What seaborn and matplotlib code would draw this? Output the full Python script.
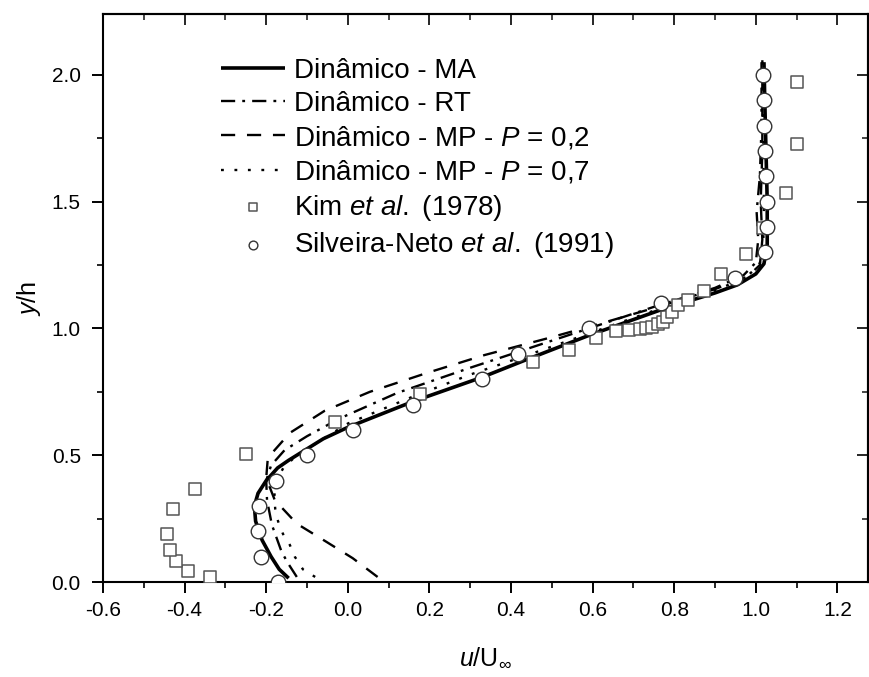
# -*- coding: utf-8 -*-
"""Perfil de velocidade u/U_inf x y/h: modelos dinamicos vs. dados experimentais"""
import numpy as np
import matplotlib
matplotlib.use("Agg")
import matplotlib.pyplot as plt
from matplotlib.ticker import MultipleLocator, FormatStrFormatter
import seaborn as sns

sns.set_theme(style="ticks")
plt.rcParams["font.family"] = ["Liberation Sans", "DejaVu Sans"]
plt.rcParams["mathtext.fontset"] = "custom"
plt.rcParams["mathtext.rm"] = "Liberation Sans"
plt.rcParams["mathtext.it"] = "Liberation Sans:italic"

# ---- Dinamico - MA (linha cheia)
ma_u = [-0.145, -0.168, -0.188, -0.210, -0.226, -0.229, -0.220, -0.200, -0.172, -0.145,
        -0.110, -0.060, 0.000, 0.160, 0.330, 0.430, 0.590, 0.770, 0.900, 0.955,
        1.000, 1.020, 1.028, 1.028, 1.025, 1.022, 1.020]
ma_y = [0.015, 0.050, 0.100, 0.165, 0.240, 0.300, 0.350, 0.400, 0.450, 0.480,
        0.515, 0.565, 0.610, 0.712, 0.808, 0.872, 0.972, 1.075, 1.140, 1.172,
        1.215, 1.255, 1.330, 1.500, 1.700, 1.900, 2.050]

# ---- Dinamico - RT (traco-ponto)
rt_u = [-0.125, -0.145, -0.162, -0.186, -0.198, -0.200, -0.188, -0.155, -0.100, -0.020,
        0.120, 0.300, 0.450, 0.600, 0.750, 0.900, 0.970, 1.000, 1.006, 1.002,
        1.010, 1.014, 1.014]
rt_y = [0.020, 0.070, 0.118, 0.225, 0.323, 0.400, 0.460, 0.520, 0.575, 0.645,
        0.745, 0.845, 0.925, 1.005, 1.085, 1.160, 1.210, 1.260, 1.350, 1.460,
        1.600, 1.800, 2.050]

# ---- Dinamico - MP - P = 0,2 (tracejado)
p2_u = [0.073, 0.012, -0.052, -0.125, -0.179, -0.200, -0.196, -0.142, -0.057, 0.054,
        0.193, 0.335, 0.494, 0.634, 0.760, 0.900, 0.980, 1.010, 1.016, 1.012,
        1.016, 1.016]
p2_y = [0.020, 0.094, 0.158, 0.230, 0.323, 0.410, 0.490, 0.588, 0.675, 0.750,
        0.824, 0.895, 0.963, 1.026, 1.085, 1.155, 1.205, 1.250, 1.350, 1.500,
        1.700, 2.050]

# ---- Dinamico - MP - P = 0,7 (pontilhado)
p7_u = [-0.080, -0.110, -0.130, -0.142, -0.159, -0.171, -0.178, -0.180, -0.175, -0.158,
        -0.125, -0.065, 0.000, 0.150, 0.300, 0.450, 0.600, 0.750, 0.900, 0.975,
        1.008, 1.018, 1.020, 1.018, 1.016]
p7_y = [0.020, 0.050, 0.100, 0.146, 0.190, 0.240, 0.290, 0.340, 0.400, 0.450,
        0.500, 0.560, 0.625, 0.725, 0.818, 0.900, 0.985, 1.070, 1.150, 1.200,
        1.250, 1.300, 1.500, 1.800, 2.060]

# ---- Kim et al. (1978)
kim_u = [-0.338, -0.392, -0.421, -0.436, -0.443, -0.429, -0.375, -0.250, -0.032, 0.176,
         0.453, 0.541, 0.609, 0.658, 0.688, 0.715, 0.732, 0.746, 0.761, 0.773,
         0.783, 0.795, 0.810, 0.835, 0.874, 0.915, 0.977, 1.018, 1.074, 1.100,
         1.100]
kim_y = [0.020, 0.043, 0.083, 0.126, 0.189, 0.288, 0.367, 0.505, 0.630, 0.742,
         0.868, 0.915, 0.963, 0.990, 0.994, 0.998, 1.002, 1.006, 1.018, 1.026,
         1.045, 1.065, 1.093, 1.112, 1.148, 1.215, 1.294, 1.396, 1.534, 1.728,
         1.972]

# ---- Silveira-Neto et al. (1991)
sn_u = [-0.172, -0.213, -0.220, -0.218, -0.176, -0.101, 0.012, 0.161, 0.328, 0.416,
        0.590, 0.768, 0.950, 1.022, 1.028, 1.027, 1.025, 1.022, 1.020, 1.020,
        1.018]
sn_y = [0.00, 0.10, 0.20, 0.30, 0.40, 0.50, 0.60, 0.70, 0.80, 0.90,
        1.00, 1.10, 1.20, 1.30, 1.40, 1.50, 1.60, 1.70, 1.80, 1.90,
        2.00]


def draw_curve(ax, u, y, lw, dashes, label):
    sns.lineplot(x=u, y=y, sort=False, estimator=None, color="black", lw=lw, ax=ax,
                 label=label, legend=False)
    line = ax.lines[-1]
    if dashes is not None:
        line.set_dashes(dashes)
    line.set_solid_capstyle("butt")
    line.set_dash_capstyle("butt")
    return line


def main():
    fig, ax = plt.subplots(figsize=(8.7, 6.77), dpi=100)
    fig.subplots_adjust(left=0.1184, right=0.9977, bottom=0.1403, top=0.9793)

    h_ma = draw_curve(ax, ma_u, ma_y, 2.6, None, "Dinâmico - MA")
    h_rt = draw_curve(ax, rt_u, rt_y, 1.7, [6, 3, 1.2, 3], "Dinâmico - RT")
    h_p2 = draw_curve(ax, p2_u, p2_y, 1.7, [6, 5], r"Dinâmico - MP - $\mathit{P}$ = 0,2")
    h_p7 = draw_curve(ax, p7_u, p7_y, 1.7, [1.2, 4.5], r"Dinâmico - MP - $\mathit{P}$ = 0,7")

    sns.scatterplot(x=kim_u, y=kim_y, marker="s", s=75, facecolor="white",
                    edgecolor="#555555", linewidth=1.1, ax=ax, zorder=3)
    h_kim = ax.collections[-1]
    sns.scatterplot(x=sn_u, y=sn_y, marker="o", s=110, facecolor="white",
                    edgecolor="#333333", linewidth=1.0, ax=ax, zorder=4)
    h_sn = ax.collections[-1]

    ax.set_xlim(-0.6, 1.275)
    ax.set_ylim(0.0, 2.24)
    ax.xaxis.set_major_locator(MultipleLocator(0.2))
    ax.xaxis.set_minor_locator(MultipleLocator(0.1))
    ax.yaxis.set_major_locator(MultipleLocator(0.5))
    ax.yaxis.set_minor_locator(MultipleLocator(0.25))
    ax.xaxis.set_major_formatter(FormatStrFormatter("%.1f"))
    ax.yaxis.set_major_formatter(FormatStrFormatter("%.1f"))

    ax.tick_params(which="major", direction="out", length=8, width=1.4, labelsize=15,
                   color="black", labelcolor="black")
    ax.tick_params(which="minor", direction="out", length=4.5, width=1.2, color="black")
    ax.tick_params(axis="x", pad=6)
    ax.tick_params(axis="y", pad=8)

    for sp in ax.spines.values():
        sp.set_visible(True)
        sp.set_color("black")
        sp.set_linewidth(1.5)

    # ticks espelhados (para dentro) no topo e na direita
    top = ax.secondary_xaxis("top")
    top.xaxis.set_major_locator(MultipleLocator(0.2))
    top.xaxis.set_minor_locator(MultipleLocator(0.1))
    top.tick_params(which="major", direction="in", length=8, width=1.4, labeltop=False)
    top.tick_params(which="minor", direction="in", length=4.5, width=1.2)
    top.spines["top"].set_linewidth(1.5)
    right = ax.secondary_yaxis("right")
    right.yaxis.set_major_locator(MultipleLocator(0.5))
    right.yaxis.set_minor_locator(MultipleLocator(0.25))
    right.tick_params(which="major", direction="in", length=8, width=1.4, labelright=False)
    right.tick_params(which="minor", direction="in", length=4.5, width=1.2)
    right.spines["right"].set_linewidth(1.5)

    ax.set_xlabel(r"$\mathit{u}$/U$_{\infty}$", fontsize=18, labelpad=18, color="black")
    ax.set_ylabel(r"$\mathit{y}$/h", fontsize=18, labelpad=6, color="black")

    handles = [h_ma, h_rt, h_p2, h_p7, h_kim, h_sn]
    labels = ["Dinâmico - MA", "Dinâmico - RT",
              r"Dinâmico - MP - $\mathit{P}$ = 0,2",
              r"Dinâmico - MP - $\mathit{P}$ = 0,7",
              r"Kim $\mathit{et\ al.}$ (1978)",
              r"Silveira-Neto $\mathit{et\ al.}$ (1991)"]
    leg = ax.legend(handles, labels, loc="upper left", bbox_to_anchor=(0.154, 0.923),
                    frameon=False, fontsize=20, handlelength=2.3, handletextpad=0.32,
                    labelspacing=0.26, borderpad=0, borderaxespad=0, markerscale=0.6)
    for t in leg.get_texts():
        t.set_color("black")

    fig.savefig("out.png", dpi=100)
    plt.close(fig)


if __name__ == "__main__":
    main()
